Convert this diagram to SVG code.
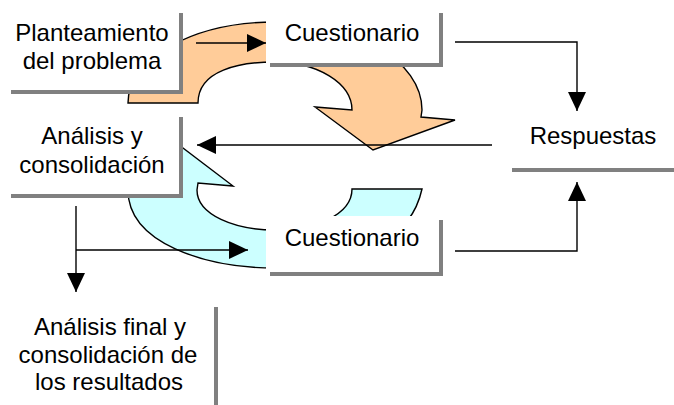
<svg xmlns="http://www.w3.org/2000/svg" width="674" height="405" viewBox="0 0 674 405">
<style>
.t{font-family:"Liberation Sans",Arial,sans-serif;font-size:24px;fill:#000;text-anchor:middle}
.box{fill:#fff}
.sh{fill:#808080}
.ln{fill:none;stroke:#000;stroke-width:1.4}
.shape{stroke:#000;stroke-width:1.4;stroke-linejoin:miter}
</style>
<defs>
<marker id="ah" viewBox="0 0 19 18" refX="19" refY="9" markerWidth="19" markerHeight="18" markerUnits="userSpaceOnUse" orient="auto">
<path d="M0,0 L19,9 L0,18 Z" fill="#000"/>
</marker>
</defs>
<g id="orange-arrow">
<path class="shape" fill="#FFCC99" d="M128,103 C128,58 194,22 275,22 C356,22 422,61 422,110 L421,117 L455,120 L373,150 L315,107 L352,110 C352,83 317,62 275,62 C240,62 198,70 198,103 Z"/>
</g>
<g id="blue-arrow">
<path class="shape" fill="#CCFFFF" d="M352,189 L422,189 C412,235 365,268 275,268 C205,268 128,243 128,190 L110,165 L150,123 L233,186 L198,183 L197,190 C197,215 235,230 275,230 C315,230 352,215 352,189 Z"/>
</g>
<g id="planteamiento">
<rect class="sh" x="11" y="13" width="172" height="81"/>
<rect class="box" x="7" y="9" width="172" height="81"/>
<text class="t" x="92" y="41">Planteamiento</text>
<text class="t" x="92" y="68.5">del problema</text>
</g>
<g id="cuestionario1">
<rect class="sh" x="270" y="13" width="173" height="54"/>
<rect class="box" x="266" y="9" width="173" height="54"/>
<text class="t" x="352" y="41">Cuestionario</text>
</g>
<g id="analisis">
<rect class="sh" x="11" y="117" width="172" height="81"/>
<rect class="box" x="7" y="113" width="172" height="81"/>
<text class="t" x="92" y="144">Análisis y</text>
<text class="t" x="92" y="173">consolidación</text>
</g>
<g id="respuestas">
<rect class="sh" x="512" y="118" width="170" height="54"/>
<rect class="box" x="508" y="114" width="170" height="54"/>
<text class="t" x="593" y="144">Respuestas</text>
</g>
<g id="cuestionario2">
<rect class="sh" x="270" y="220" width="173" height="56"/>
<rect class="box" x="266" y="216" width="173" height="56"/>
<text class="t" x="352" y="246">Cuestionario</text>
</g>
<g id="analisis-final">
<rect class="sh" x="6" y="307" width="212" height="110"/>
<rect class="box" x="2" y="303" width="212" height="110"/>
<text class="t" x="110" y="335">Análisis final y</text>
<text class="t" x="108" y="362.5">consolidación de</text>
<text class="t" x="109" y="390">los resultados</text>
</g>
<g id="connectors">
<path class="ln" d="M196,43 L266,43" marker-end="url(#ah)"/>
<path class="ln" d="M455,42 L577,42 L577,111" marker-end="url(#ah)"/>
<path class="ln" d="M492,145 L197,145" marker-end="url(#ah)"/>
<path class="ln" d="M455,251 L577,251 L577,182" marker-end="url(#ah)"/>
<path class="ln" d="M76,206 L76,292" marker-end="url(#ah)"/>
<path class="ln" d="M76,250 L248,250" marker-end="url(#ah)"/>
</g>
</svg>
